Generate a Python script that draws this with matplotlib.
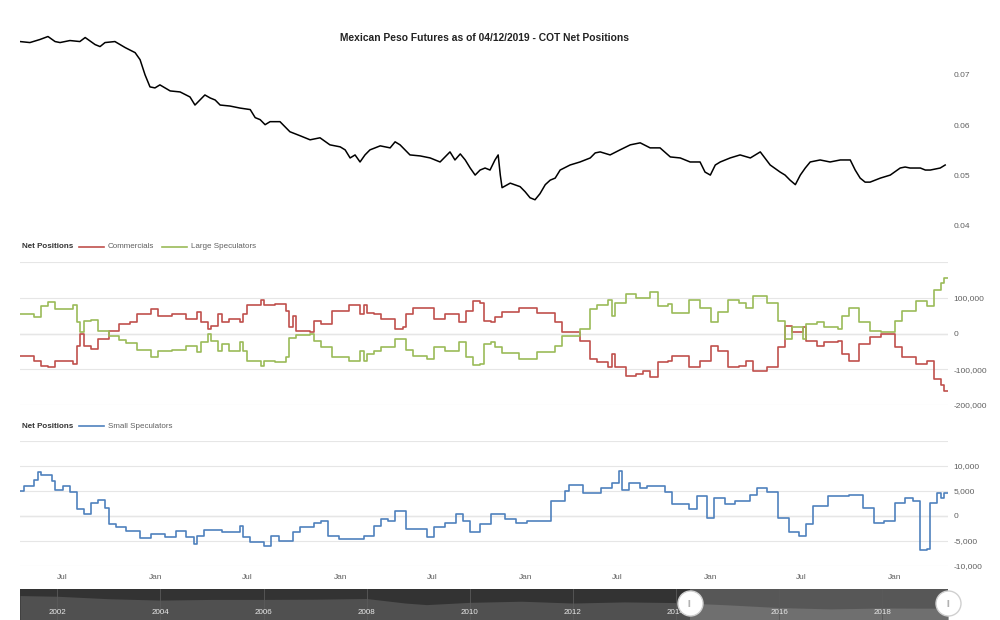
import numpy as np
import pandas as pd
import matplotlib
matplotlib.use("Agg")
import matplotlib.pyplot as plt
from matplotlib.lines import Line2D
from matplotlib.ticker import FuncFormatter

plt.rcParams['font.family'] = ['Liberation Sans', 'DejaVu Sans']

# ====== data ======
start = pd.Timestamp("2014-04-08")   # first weekly COT report in view
end = pd.Timestamp("2019-04-16")

# price (weeks since start, USD per MXN)
price_weeks = [0, 2.8, 5.6, 7.9, 9.9, 11.3, 14.1, 16.9, 18.4, 21.2, 22.6, 24.0, 26.8, 29.7,
               32.5, 33.9, 35.3, 36.7, 38.1, 39.5, 42.4, 45.2, 48.0, 49.4, 52.2, 53.7, 55.1,
               56.5, 59.3, 62.1, 65.0, 66.4, 67.8, 69.2, 70.6, 73.4, 76.2, 79.1, 81.9, 84.7,
               87.5, 90.4, 91.8, 93.2, 94.6, 96.0, 97.4, 98.8, 101.7, 104.5, 105.9, 107.3,
               108.7, 110.1, 113.0, 115.8, 118.6, 121.4, 122.8, 124.3, 125.7, 127.1, 128.5,
               129.9, 131.3, 132.7, 134.1, 135.0, 135.6, 136.1, 138.4, 141.2, 142.6, 144.0,
               145.4, 146.8, 148.3, 149.7, 151.1, 152.5, 155.3, 158.1, 161.0, 162.4, 163.8,
               166.6, 169.4, 172.3, 175.1, 177.9, 180.7, 183.6, 186.4, 189.2, 192.0, 193.4,
               194.9, 196.3, 197.7, 200.5, 203.3, 206.2, 209.0, 211.8, 214.6, 216.0, 217.4,
               218.9, 220.3, 221.7, 223.1, 225.9, 228.7, 231.6, 234.4, 235.8, 237.2, 238.6,
               240.0, 242.9, 245.7, 248.5, 249.9, 251.3, 254.2, 255.6, 257.0, 259.8, 261.2]
price_vals = [0.0766, 0.0764, 0.0770, 0.0776, 0.0766, 0.0764, 0.0768, 0.0766, 0.0774, 0.0760,
              0.0756, 0.0764, 0.0766, 0.0754, 0.0744, 0.0730, 0.0700, 0.0676, 0.0674, 0.0680,
              0.0668, 0.0666, 0.0656, 0.0640, 0.0660, 0.0654, 0.0650, 0.0640, 0.0638, 0.0634,
              0.0631, 0.0615, 0.0611, 0.0601, 0.0607, 0.0607, 0.0587, 0.0579, 0.0571, 0.0575,
              0.0561, 0.0557, 0.0551, 0.0535, 0.0541, 0.0527, 0.0541, 0.0551, 0.0559, 0.0555,
              0.0567, 0.0561, 0.0551, 0.0541, 0.0539, 0.0535, 0.0527, 0.0547, 0.0531, 0.0543,
              0.0531, 0.0515, 0.0501, 0.0511, 0.0515, 0.0511, 0.0531, 0.0541, 0.0501, 0.0476,
              0.0485, 0.0478, 0.0468, 0.0456, 0.0452, 0.0464, 0.0482, 0.0491, 0.0495, 0.0511,
              0.0521, 0.0527, 0.0535, 0.0545, 0.0547, 0.0541, 0.0551, 0.0561, 0.0565, 0.0555,
              0.0555, 0.0537, 0.0535, 0.0527, 0.0527, 0.0507, 0.0501, 0.0521, 0.0527, 0.0535,
              0.0541, 0.0535, 0.0547, 0.0521, 0.0507, 0.0501, 0.0491, 0.0482, 0.0501, 0.0515,
              0.0527, 0.0531, 0.0527, 0.0531, 0.0531, 0.0511, 0.0495, 0.0487, 0.0487, 0.0495,
              0.0501, 0.0515, 0.0517, 0.0515, 0.0515, 0.0511, 0.0511, 0.0515, 0.0521]

# net positions: commercials / large speculators (weeks since start, thousands)
cot_weeks = [0, 4, 6, 8, 10, 15, 16, 17, 18, 20, 22, 25, 28, 30, 31, 33, 37, 39, 43, 47, 50,
             51, 53, 54, 56, 57, 59, 62, 63, 64, 68, 69, 72, 75, 76, 77, 78, 82, 83, 85, 88,
             93, 96, 97, 98, 100, 102, 106, 108, 109, 111, 115, 117, 120, 124, 126, 128, 130,
             131, 133, 134, 136, 141, 146, 151, 153, 158, 161, 163, 166, 167, 168, 171, 174,
             176, 178, 180, 183, 184, 189, 192, 195, 197, 200, 203, 205, 207, 211, 214, 216,
             218, 221, 222, 225, 227, 231, 232, 234, 237, 240, 243, 247, 249, 253, 256, 258,
             260, 261, 262]
large_spec = [54, 46, 78, 89, 68, 79, 31, 3, 35, 38, 7, -6, -18, -27, -27, -45, -65, -48, -45,
              -34, -53, -25, 0, -20, -48, -30, -48, -25, -48, -76, -90, -76, -80, -67, -13,
              -13, -4, -2, -20, -39, -65, -76, -48, -76, -56, -48, -39, -16, -14, -46, -62,
              -71, -39, -48, -25, -67, -87, -85, -30, -25, -39, -55, -70, -53, -34, -8, 12, 68,
              81, 95, 49, 86, 111, 100, 100, 116, 77, 82, 58, 95, 72, 31, 60, 95, 86, 72, 105,
              86, 35, -16, 17, -16, 26, 31, 17, 12, 49, 72, 31, 7, 3, 35, 63, 91, 77, 123, 142,
              156, 156]
commercials = [-62, -76, -90, -94, -76, -85, -34, -2, -34, -43, -16, 7, 26, 26, 32, 55, 68, 49,
               54, 40, 61, 31, 12, 21, 54, 31, 40, 31, 54, 81, 93, 81, 83, 63, 17, 49, 7, 3, 35,
               26, 63, 81, 54, 81, 58, 54, 40, 12, 17, 54, 70, 72, 40, 54, 31, 63, 91, 86, 35,
               31, 45, 60, 72, 58, 31, 3, -20, -71, -80, -94, -57, -94, -118, -112, -104, -122,
               -80, -76, -62, -94, -76, -34, -48, -94, -90, -76, -104, -94, -39, 21, 3, 17, -20,
               -34, -25, -20, -57, -76, -30, -11, -2, -39, -67, -85, -76, -127, -145, -160,
               -160]

# small speculators (weeks since start, thousands of contracts)
small_weeks = [0, 1, 4, 5, 6, 9, 10, 12, 14, 16, 18, 20, 22, 24, 25, 27, 30, 34, 37, 41, 44,
               47, 49, 50, 52, 57, 62, 63, 65, 69, 71, 73, 77, 79, 83, 85, 87, 90, 97, 100, 102,
               104, 106, 109, 115, 117, 120, 123, 125, 127, 130, 133, 137, 140, 143, 148, 150,
               154, 155, 159, 164, 167, 169, 170, 172, 175, 177, 182, 184, 189, 191, 194, 196,
               199, 202, 206, 208, 211, 214, 217, 220, 222, 224, 228, 234, 238, 241, 244, 247,
               250, 252, 254, 256, 257, 259, 260, 261, 262]
small_spec = [5.0, 6.0, 7.3, 8.8, 8.2, 7.0, 5.2, 6.0, 4.9, 1.4, 0.4, 2.7, 3.2, 1.7, -1.6, -2.2,
              -2.9, -4.4, -3.6, -4.2, -2.9, -4.2, -5.5, -3.9, -2.8, -3.2, -1.9, -4.2, -5.2, -5.9,
              -3.9, -4.9, -3.2, -2.2, -1.3, -0.9, -3.9, -4.6, -3.9, -1.9, -0.6, -0.9, 1.0, -2.6,
              -4.2, -2.2, -1.3, 0.4, -0.9, -3.2, -1.6, 0.4, -0.6, -1.3, -0.9, -0.9, 3.0, 5.0,
              6.3, 4.7, 5.7, 6.6, 9.1, 5.3, 6.6, 5.7, 6.0, 4.9, 2.4, 1.4, 4.0, -0.3, 3.7, 2.4,
              3.0, 4.3, 5.7, 4.9, -0.3, -3.2, -3.9, -1.6, 2.0, 4.0, 4.3, 1.7, -1.3, -0.9, 2.7,
              3.7, 3.0, -6.8, -6.5, 2.7, 4.7, 3.7, 4.7, 4.7]

# navigator: long-run price history
nav_dates = ["2001-04-12", "2002-01-01", "2003-01-01", "2004-01-01", "2005-01-01", "2006-01-01",
             "2007-01-01", "2008-01-01", "2008-10-01", "2009-03-01", "2010-01-01", "2011-01-01",
             "2012-01-01", "2013-01-01", "2014-01-01", "2015-01-01", "2016-01-01", "2017-01-01",
             "2018-01-01", "2019-04-12"]
nav_price = [0.108, 0.105, 0.094, 0.088, 0.091, 0.091, 0.092, 0.095, 0.075, 0.068, 0.078,
             0.083, 0.075, 0.080, 0.077, 0.067, 0.055, 0.049, 0.053, 0.052]
nav_years = [2002, 2004, 2006, 2008, 2010, 2012, 2014, 2016, 2018]


def to_dates(weeks):
    return start + pd.to_timedelta(np.array(weeks, dtype=float) * 7, unit="D")


red = '#c0504d'
green = '#9bbb59'
blue = '#4f81bd'
grid_c = '#e6e6e6'
label_c = '#606060'

fig = plt.figure(figsize=(10, 6.2), dpi=100)
L, W = 0.02, 0.928


def style(ax):
    for s in ax.spines.values():
        s.set_visible(False)
    ax.yaxis.tick_right()
    ax.tick_params(axis='y', length=0, pad=4, labelsize=6, labelcolor=label_c)
    ax.tick_params(axis='x', length=0, bottom=False, labelbottom=False)
    ax.set_xlim(start, end)


# ====== price ======
ax1 = fig.add_axes([L, 1 - 230 / 620, W, 195 / 620])
style(ax1)
ax1.plot(to_dates(price_weeks), price_vals, color='black', lw=1.1)
ax1.set_ylim(0.0392, 0.0779)
ax1.set_yticks([0.04, 0.05, 0.06, 0.07])
ax1.yaxis.set_major_formatter(FuncFormatter(lambda v, p: f"{v:.2f}"))

fig.text(0.484, 1 - 38 / 620, "Mexican Peso Futures as of 04/12/2019 - COT Net Positions",
         ha='center', va='center', fontsize=7.4, fontweight='bold', color='#222222',
         family=['Liberation Sans Narrow', 'Liberation Sans'])

# ====== commercials / large specs ======
ax2 = fig.add_axes([L, 1 - 405 / 620, W, 143 / 620])
style(ax2)
cot_dates = to_dates(cot_weeks)
ax2.set_yticks([-200000, -100000, 0, 100000, 200000])
ax2.yaxis.set_major_formatter(FuncFormatter(lambda v, p: "" if v > 150000 else f"{v:,.0f}"))
ax2.grid(axis='y', color=grid_c, lw=0.8)
ax2.axhline(0, color='#a0a0a0', lw=0.8, zorder=1)
ax2.plot(cot_dates, np.array(commercials) * 1000, color=red, lw=1.2, drawstyle='steps-post', zorder=3)
ax2.plot(cot_dates, np.array(large_spec) * 1000, color=green, lw=1.2, drawstyle='steps-post', zorder=3)
ax2.set_ylim(-200000, 200000)

# ====== small specs ======
ax3 = fig.add_axes([L, 1 - 566 / 620, W, 125 / 620])
style(ax3)
ax3.set_yticks([-10000, -5000, 0, 5000, 10000, 15000])
ax3.yaxis.set_major_formatter(FuncFormatter(lambda v, p: "" if v > 12000 else f"{v:,.0f}"))
ax3.grid(axis='y', color=grid_c, lw=0.8)
ax3.axhline(0, color='#a0a0a0', lw=0.8, zorder=1)
ax3.plot(to_dates(small_weeks), np.array(small_spec) * 1000, color=blue, lw=1.2,
         drawstyle='steps-post', zorder=3)
ax3.set_ylim(-10000, 15000)

# x labels: Jul / Jan
xt = pd.date_range("2014-07-01", "2019-01-01", freq="6MS")
ax3.set_xticks(xt)
ax3.set_xticklabels(["Jul" if d.month == 7 else "Jan" for d in xt])
ax3.tick_params(axis='x', labelbottom=True, labelsize=6, labelcolor=label_c, pad=6)


# legends
def legend(y, items):
    fig.text(0.022, y, "Net Positions", fontsize=5.8, fontweight='bold', color='#333333', va='center')
    for x0, color, name in items:
        fig.add_artist(Line2D([x0, x0 + 0.025], [y, y], color=color, lw=1.2))
        fig.text(x0 + 0.029, y, name, fontsize=5.8, color=label_c, va='center')


legend(1 - 247 / 620, [(0.079, red, "Commercials"), (0.162, green, "Large Speculators")])
legend(1 - 426 / 620, [(0.079, blue, "Small Speculators")])

# ====== navigator ======
ax4 = fig.add_axes([L, 0, W, 31 / 620], facecolor='#333333')
for s in ax4.spines.values():
    s.set_visible(False)
nd = pd.to_datetime(nav_dates)
ax4.fill_between(nd, 0, nav_price, color='#505050', lw=0)
ax4.set_xlim(pd.Timestamp("2001-04-12"), pd.Timestamp("2019-04-12"))
ax4.set_ylim(0, 0.137)
ax4.set_xticks([])
ax4.set_yticks([])
for yr in nav_years:
    d = pd.Timestamp(f"{yr}-01-01")
    ax4.axvline(d, color='#5a5a5a', lw=0.6)
    ax4.text(d, 0.035, str(yr), ha='center', va='center', fontsize=5.8, color='#e8e8e8')
ax4.axvspan(start, pd.Timestamp("2019-04-12"), color='white', alpha=0.18, lw=0)
for d in [start, pd.Timestamp("2019-04-12")]:
    ax4.plot(d, 0.074, marker='o', ms=18, mfc='white', mec='#d0d0d0', clip_on=False, zorder=5)
    ax4.text(d, 0.074, "||", ha='center', va='center', fontsize=5, color='#999999', zorder=6)

plt.savefig("out.png", dpi=100)
